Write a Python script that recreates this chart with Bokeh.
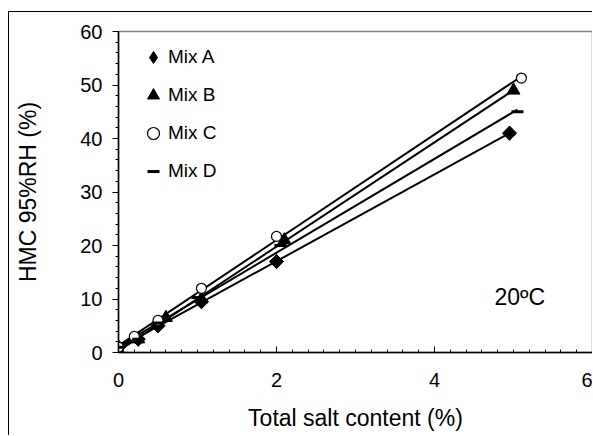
import numpy as np
from bokeh.plotting import figure
from bokeh.models import Range1d, Legend, LegendItem, FixedTicker, Label
from bokeh.embed import file_html
from bokeh.resources import INLINE

# Data
mix_a_x = [0.0, 0.25, 0.5, 1.05, 2.0, 4.95]
mix_a_y = [1.0, 2.5, 5.0, 9.5, 17.0, 41.0]
mix_b_x = [0.0, 0.25, 0.6, 1.05, 2.1, 5.0]
mix_b_y = [0.5, 2.5, 6.5, 10.0, 21.0, 49.0]
mix_c_x = [0.0, 0.2, 0.5, 1.05, 2.0, 5.1]
mix_c_y = [1.0, 3.0, 6.0, 12.0, 21.7, 51.3]
mix_d_x = [0.0, 0.25, 0.5, 1.0, 2.05, 5.05]
mix_d_y = [1.0, 2.5, 5.5, 10.3, 20.0, 45.0]
x_ticks = [0, 2, 4, 6]
y_ticks = [0, 10, 20, 30, 40, 50, 60]

FONT = "Liberation Sans"

p = figure(width=584, height=424, output_backend="svg", toolbar_location=None,
           x_range=Range1d(0, 6), y_range=Range1d(0, 60),
           min_border_left=109, min_border_right=1, min_border_top=19, min_border_bottom=84)
p.styles = {"margin-left": "8px", "margin-top": "11px",
            "border-left": "1px solid black", "border-top": "1px solid black"}
p.grid.visible = False
p.outline_line_color = "#808080"
p.outline_line_width = 1.5
p.background_fill_color = "white"
p.border_fill_color = "white"

# axes
xa = p.xaxis[0]
xa.ticker = FixedTicker(ticks=x_ticks, minor_ticks=list(np.round(np.arange(0, 6.01, 0.2), 2)))
xa.major_tick_in = 6
xa.major_tick_out = 0
xa.minor_tick_in = 3
xa.minor_tick_out = 0
xa.axis_label = "Total salt content (%)"
ya = p.yaxis[0]
ya.ticker = FixedTicker(ticks=y_ticks, minor_ticks=list(range(0, 61, 2)))
ya.major_tick_in = 0
ya.major_tick_out = 6
ya.minor_tick_in = 0
ya.minor_tick_out = 3
ya.axis_label = "HMC 95%RH (%)"
for ax in (xa, ya):
    ax.axis_line_color = "black"
    ax.axis_line_width = 1.5
    ax.major_tick_line_color = "black"
    ax.minor_tick_line_color = "black"
    ax.major_label_text_font = FONT
    ax.major_label_text_font_size = "20px"
    ax.major_label_text_color = "black"
    ax.axis_label_text_font = FONT
    ax.axis_label_text_font_size = "23px"
    ax.axis_label_text_font_style = "normal"
    ax.axis_label_text_color = "black"
xa.major_label_standoff = 20
xa.axis_label_standoff = 15
ya.major_label_standoff = 10
ya.axis_label_standoff = 36

series = [
    ("Mix A", mix_a_x, mix_a_y),
    ("Mix B", mix_b_x, mix_b_y),
    ("Mix C", mix_c_x, mix_c_y),
    ("Mix D", mix_d_x, mix_d_y),
]

# trend lines (linear fits of each series)
for name, xs, ys in series:
    k, b = np.polyfit(xs, ys, 1)
    x0, x1 = 0.0, max(xs)
    p.line([x0, x1], [k * x0 + b, k * x1 + b], line_color="black", line_width=2)

# Mix A: diamond (used by the legend) hidden under rotated squares
ra = p.scatter(mix_a_x, mix_a_y, marker="diamond", size=14, fill_color="black", line_color="black")
p.scatter(mix_a_x, mix_a_y, marker="square", angle=np.pi / 4, size=10,
          fill_color="black", line_color="black")
rb = p.scatter(mix_b_x, mix_b_y, marker="triangle", size=13, fill_color="black", line_color="black")
rc = p.scatter(mix_c_x, mix_c_y, marker="circle", size=10, fill_color="white", line_color="black", line_width=1.2)
rd = p.scatter(mix_d_x, mix_d_y, marker="dash", size=12, line_color="black", line_width=3)

legend = Legend(items=[LegendItem(label="Mix A", renderers=[ra]),
                       LegendItem(label="Mix B", renderers=[rb]),
                       LegendItem(label="Mix C", renderers=[rc]),
                       LegendItem(label="Mix D", renderers=[rd])],
                location=(20, 166), border_line_color=None, background_fill_alpha=0,
                label_text_font=FONT, label_text_font_size="19px", label_text_color="black",
                glyph_width=30, glyph_height=30, label_height=30, spacing=8,
                label_standoff=0, padding=0, margin=0)
p.add_layout(legend, "center")

p.add_layout(Label(x=4.76, y=10.3, text="20ºC", text_font=FONT, text_font_size="23px",
                   text_baseline="middle", text_color="black"))

open("out.html", "w").write(file_html(p, INLINE))
